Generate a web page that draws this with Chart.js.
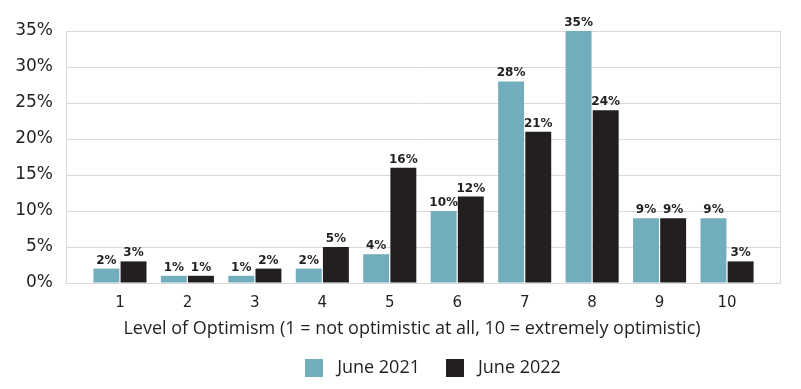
<!DOCTYPE html>
<html>
<head>
<meta charset="utf-8">
<script src="https://cdn.jsdelivr.net/npm/chart.js@4"></script>
<style>
html,body{margin:0;padding:0;background:#fff;}
#wrap{width:801px;height:389px;position:relative;}
</style>
</head>
<body>
<div id="wrap"><canvas id="c" width="801" height="389"></canvas></div>
<script>
const categories = [1, 2, 3, 4, 5, 6, 7, 8, 9, 10];
const june2021 = [2, 1, 1, 2, 4, 10, 28, 35, 9, 9];
const june2022 = [3, 1, 2, 5, 16, 12, 21, 24, 9, 3];
const seriesNames = ['June 2021', 'June 2022'];
const seriesColors = ['#72adbd', '#231f20'];
const yTicks = [0, 5, 10, 15, 20, 25, 30, 35];
const xTitle = 'Level of Optimism (1 = not optimistic at all, 10 = extremely optimistic)';

const toPoints = arr => arr.map((v, i) => ({x: categories[i], y: v}));

function swatch(color) {
  const c = document.createElement('canvas');
  c.width = 18; c.height = 18;
  const g = c.getContext('2d');
  g.fillStyle = color;
  g.fillRect(0, 0, 18, 18);
  return c;
}

const boxPlugin = {
  id: 'box',
  afterUpdate(chart) {
    const lg = chart.legend;
    if (lg) {
      const d = 430.5 - (lg.left + lg.right) / 2;
      lg.left += d; lg.right += d;
      if (lg.legendHitBoxes) lg.legendHitBoxes.forEach(h => { h.left += d; });
    }
  },
  beforeDatasetsDraw(chart) {
    const {ctx, chartArea: a} = chart;
    ctx.save();
    ctx.strokeStyle = '#d9d9d9';
    ctx.lineWidth = 1;
    ctx.strokeRect(Math.round(a.left) + 0.5, Math.round(a.top) + 0.5, Math.round(a.right - a.left) - 1, Math.round(a.bottom - a.top));
    ctx.restore();
  }
};
const labelPlugin = {
  id: 'vlabels',
  afterDatasetsDraw(chart) {
    const ctx = chart.ctx;
    ctx.save();
    ctx.font = 'bold 12px "DejaVu Sans", sans-serif';
    ctx.fillStyle = '#231f20';
    ctx.textAlign = 'center';
    ctx.textBaseline = 'alphabetic';
    chart.data.datasets.forEach((ds, i) => {
      chart.getDatasetMeta(i).data.forEach((bar, j) => {
        ctx.fillText(ds.data[j].y + '%', bar.x, bar.y - 5);
      });
    });
    ctx.font = '18px "Open Sans", sans-serif';
    ctx.textBaseline = 'middle';
    ctx.fillText(xTitle, 412, 329);
    ctx.restore();
  }
};

new Chart(document.getElementById('c'), {
  type: 'bar',
  data: {
    datasets: [
      {label: seriesNames[0], data: toPoints(june2021), backgroundColor: seriesColors[0], borderWidth: 0},
      {label: seriesNames[1], data: toPoints(june2022), backgroundColor: seriesColors[1], borderWidth: 0}
    ]
  },
  options: {
    responsive: false,
    animation: false,
    devicePixelRatio: 1,
    layout: {padding: {left: 0, right: 20, top: 31, bottom: 2}},
    datasets: {bar: {categoryPercentage: 0.805, barPercentage: 0.955}},
    plugins: {
      legend: {
        position: 'bottom',
        labels: {
          font: {family: '"Open Sans", sans-serif', size: 18},
          color: '#231f20',
          boxWidth: 18, boxHeight: 18, padding: 21,
          usePointStyle: true,
          pointStyleWidth: 28,
          generateLabels(chart) {
            const items = Chart.defaults.plugins.legend.labels.generateLabels(chart);
            items.forEach((it, i) => { it.pointStyle = swatch(seriesColors[i]); it.fontColor = '#231f20'; });
            return items;
          }
        }
      },
      tooltip: {enabled: false},
      title: {display: false}
    },
    scales: {
      x: {
        type: 'linear',
        offset: false,
        min: 0.2, max: 10.8,
        afterBuildTicks(axis) { axis.ticks = categories.map(v => ({value: v})); },
        afterFit(axis) { axis.height = 55; },
        grid: {display: false, drawTicks: false},
        border: {display: false},
        ticks: {color: '#231f20', font: {family: '"DejaVu Sans", sans-serif', size: 15}, padding: 11, autoSkip: false, maxRotation: 0, callback: v => String(v)}
      },
      y: {
        min: 0, max: 35,
        afterBuildTicks(axis) { axis.ticks = yTicks.map(v => ({value: v})); },
        afterFit(axis) { axis.width = 66; },
        grid: {color: '#d9d9d9', drawTicks: false},
        border: {display: false},
        ticks: {color: '#231f20', font: {family: '"DejaVu Sans", sans-serif', size: 17}, padding: 13, callback: v => v + '%'}
      }
    }
  },
  plugins: [boxPlugin, labelPlugin]
});
</script>
</body>
</html>
